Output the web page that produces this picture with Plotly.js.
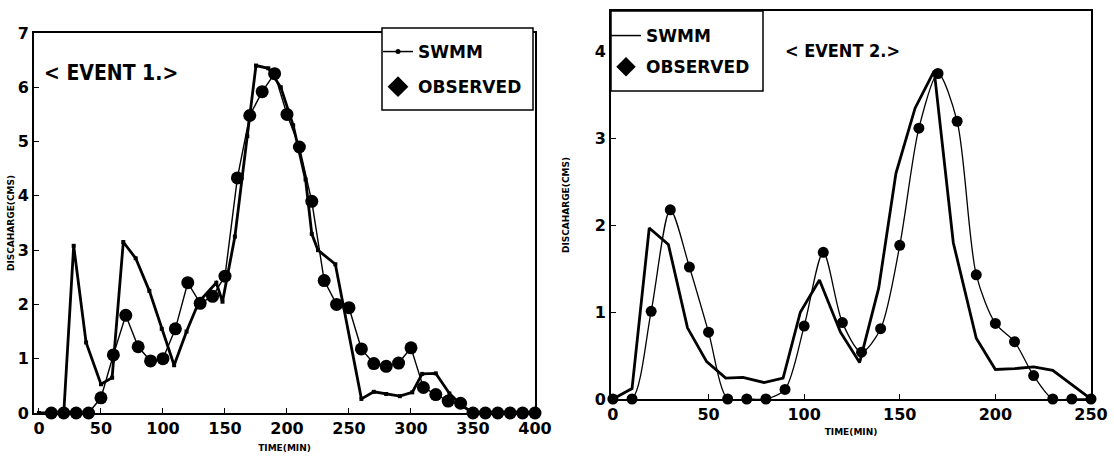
<!DOCTYPE html>
<html>
<head>
<meta charset="utf-8">
<script src="https://cdn.plot.ly/plotly-3.0.1.min.js"></script>
<style>
  html, body { margin: 0; padding: 0; background: #fff; }
  #chart { width: 1114px; height: 465px; }
</style>
</head>
<body>
<div id="chart"></div>
<script>
// ---------- EVENT 1 ----------
const ev1ObsTime = [10,20,30,40,50,60,70,80,90,100,110,120,130,140,150,160,170,180,190,200,
                    210,220,230,240,250,260,270,280,290,300,310,320,330,340,350,360,370,380,390,400];
const ev1ObsQ    = [0,0,0,0,0.28,1.07,1.8,1.22,0.96,1.0,1.55,2.4,2.02,2.15,2.52,4.33,5.48,5.92,6.25,5.5,
                    4.9,3.9,2.44,2.0,1.94,1.18,0.91,0.86,0.92,1.2,0.47,0.34,0.22,0.18,0,0,0,0,0,0];
const ev1SwmmTime = [0,20,28,38,50,59,68,78,89,99,109,119,129,143,148,158,168,175,185,195,
                     205,215,220,225,239,260,270,280,291,301,309,320,331,342,350,400];
const ev1SwmmQ    = [0,0,3.08,1.3,0.53,0.65,3.15,2.85,2.25,1.55,0.88,1.5,2.05,2.4,2.05,3.25,5.1,6.4,6.35,6.0,
                     5.3,4.3,3.3,3.0,2.74,0.26,0.39,0.35,0.31,0.38,0.72,0.73,0.36,0.12,0,0];

// ---------- EVENT 2 ----------
const ev2ObsTime = [0,10,20,30,40,50,60,70,80,90,100,110,120,130,140,150,160,170,180,190,200,210,220,230,240,250];
const ev2ObsQ    = [0,0,1.01,2.18,1.52,0.77,0,0,0,0.11,0.84,1.69,0.88,0.54,0.81,1.77,3.12,3.75,3.2,1.43,0.87,0.66,0.27,0,0,0];
const ev2SwmmTime = [0,10,19,29,39,49,59,68,79,89,98,108,119,129,139,148,158,168,178,190,200,210,220,230,250];
const ev2SwmmQ    = [0,0.12,1.97,1.78,0.82,0.43,0.24,0.25,0.19,0.24,1.0,1.37,0.77,0.42,1.28,2.6,3.35,3.78,1.8,0.7,0.34,0.35,0.37,0.33,0];

// ---------- labels ----------
const seriesNames = ['SWMM', 'OBSERVED'];
const eventTitles = ['< EVENT 1.>', '< EVENT 2.>'];
const xTitle = 'TIME(MIN)';
const yTitle = 'DISCAHARGE(CMS)';

const W = 1114, H = 465;
const px = v => v / W;
const py = v => (H - v) / H;

const tickFont = {family: 'DejaVu Sans', size: 16, color: '#000', weight: 700};
const titleFont = {family: 'DejaVu Sans', size: 9, color: '#000', weight: 700};
const legendFont = {family: 'DejaVu Sans', size: 17, color: '#000', weight: 700};
const eventFont = {family: 'DejaVu Sans Condensed', color: '#000', weight: 700};

const traces = [
  // Event 1
  {x: ev1SwmmTime, y: ev1SwmmQ, xaxis: 'x', yaxis: 'y', mode: 'lines+markers', name: seriesNames[0],
   line: {color: '#000', width: 2.8}, marker: {symbol: 'square', size: 4, color: '#000'},
   showlegend: false, cliponaxis: false},
  {x: ev1ObsTime, y: ev1ObsQ, xaxis: 'x', yaxis: 'y', mode: 'lines+markers', name: seriesNames[1],
   line: {color: '#000', width: 1.4}, marker: {symbol: 'circle', size: 13, color: '#000'},
   showlegend: false, cliponaxis: false},
  // legend entries event 1
  {x: [null], y: [null], xaxis: 'x', yaxis: 'y', mode: 'lines+markers', name: seriesNames[0],
   line: {color: '#000', width: 1.5}, marker: {symbol: 'circle', size: 5, color: '#000'},
   legend: 'legend', legendgroup: 'a1'},
  {x: [null], y: [null], xaxis: 'x', yaxis: 'y', mode: 'markers', name: seriesNames[1],
   marker: {symbol: 'diamond', size: 16, color: '#000'},
   legend: 'legend', legendgroup: 'b1'},

  // Event 2
  {x: ev2SwmmTime, y: ev2SwmmQ, xaxis: 'x2', yaxis: 'y2', mode: 'lines', name: seriesNames[0],
   line: {color: '#000', width: 2.8}, showlegend: false, cliponaxis: false},
  {x: ev2ObsTime, y: ev2ObsQ, xaxis: 'x2', yaxis: 'y2', mode: 'lines+markers', name: seriesNames[1],
   line: {color: '#000', width: 1.3, shape: 'spline', smoothing: 0.8},
   marker: {symbol: 'circle', size: 11, color: '#000'}, showlegend: false, cliponaxis: false},
  // legend entries event 2
  {x: [null], y: [null], xaxis: 'x2', yaxis: 'y2', mode: 'lines', name: seriesNames[0],
   line: {color: '#000', width: 1.5}, legend: 'legend2', legendgroup: 'a2'},
  {x: [null], y: [null], xaxis: 'x2', yaxis: 'y2', mode: 'markers', name: seriesNames[1],
   marker: {symbol: 'diamond', size: 15, color: '#000'}, legend: 'legend2', legendgroup: 'b2'}
];

const axisCommon = {
  showline: true, linecolor: '#000', linewidth: 1.8, mirror: true,
  showgrid: false, zeroline: false,
  ticks: 'inside', ticklen: 5, tickwidth: 1, tickcolor: '#000',
  tickfont: tickFont
};

const legendCommon = {
  xanchor: 'left', yanchor: 'top',
  bgcolor: 'rgba(0,0,0,0)', borderwidth: 0,
  font: legendFont, itemwidth: 30, traceorder: 'grouped'
};

const layout = {
  width: W, height: H,
  margin: {l: 0, r: 0, t: 0, b: 0},
  paper_bgcolor: '#fff', plot_bgcolor: '#fff',
  showlegend: true,
  xaxis: Object.assign({}, axisCommon, {
    domain: [px(34), px(535)], range: [-4, 400], tickvals: [0,50,100,150,200,250,300,350,400],
    anchor: 'y', title: {text: xTitle, font: titleFont, standoff: 8}
  }),
  yaxis: Object.assign({}, axisCommon, {
    domain: [py(413), py(33)], range: [0, 7], dtick: 1, anchor: 'x',
    title: {text: yTitle, font: titleFont, standoff: 2}
  }),
  xaxis2: Object.assign({}, axisCommon, {
    domain: [px(611), px(1091)], range: [-1, 250], tickvals: [0,50,100,150,200,250],
    anchor: 'y2', title: {text: xTitle, font: titleFont, standoff: 6}
  }),
  yaxis2: Object.assign({}, axisCommon, {
    domain: [py(399), py(11)], range: [0, 4.47], dtick: 1, anchor: 'x2',
    title: {text: yTitle, font: titleFont, standoff: 24}
  }),
  legend: Object.assign({}, legendCommon, {x: px(378), y: py(34), tracegroupgap: 10}),
  legend2: Object.assign({}, legendCommon, {x: px(606), y: py(18), tracegroupgap: 6}),
  shapes: [
    {type: 'rect', xref: 'paper', yref: 'paper', x0: px(382), x1: px(533), y0: py(110), y1: py(28),
     line: {color: '#000', width: 1.5}, fillcolor: '#fff', layer: 'above'},
    {type: 'rect', xref: 'paper', yref: 'paper', x0: px(611), x1: px(763), y0: py(91), y1: py(11),
     line: {color: '#000', width: 1.5}, fillcolor: '#fff', layer: 'above'}
  ],
  annotations: [
    {text: eventTitles[0], xref: 'paper', yref: 'paper', x: px(111), y: py(73),
     xanchor: 'center', yanchor: 'middle', showarrow: false,
     font: Object.assign({}, eventFont, {size: 21})},
    {text: eventTitles[1], xref: 'paper', yref: 'paper', x: px(842), y: py(50),
     xanchor: 'center', yanchor: 'middle', showarrow: false,
     font: Object.assign({}, eventFont, {size: 18})}
  ]
};

Plotly.newPlot('chart', traces, layout, {staticPlot: true, displayModeBar: false});
</script>
</body>
</html>
